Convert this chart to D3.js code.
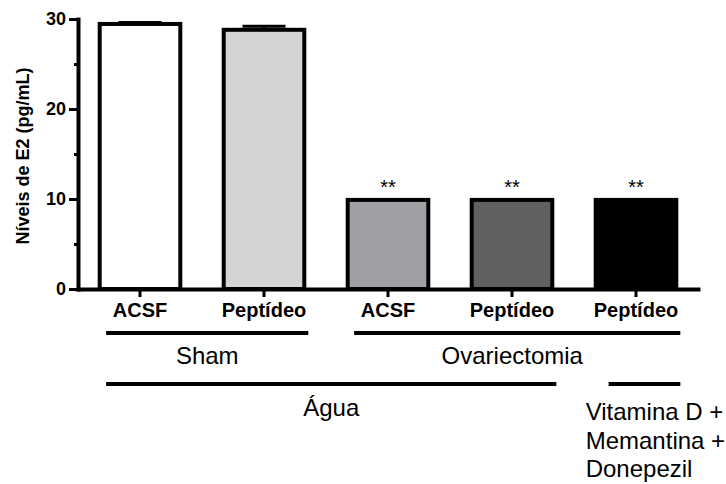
<!DOCTYPE html>
<html>
<head>
<meta charset="utf-8">
<script src="https://cdn.jsdelivr.net/npm/d3@7"></script>
<style>
  body { margin: 0; background: #fff; }
  svg { display: block; font-family: Arial, "Liberation Sans", sans-serif; }
</style>
</head>
<body>
<svg id="chart" width="726" height="484"></svg>
<script>
// bar data
const groups = ["ACSF", "Peptídeo", "ACSF", "Peptídeo", "Peptídeo"];
const means = [29.45, 28.8, 9.9, 9.9, 9.9];
const sems = [0.15, 0.4, 0.05, 0.05, 0.05];
const stars = ["", "", "**", "**", "**"];
const yTicks = [0, 10, 20, 30];
const yMinorTicks = [5, 15, 25];

// group brackets under the axis: first bar, last bar, row
const bracketLabels = ["Sham", "Ovariectomia", "Água"];
const bracketFirst = [0, 2, 0];
const bracketLast = [1, 4, 3];
const bracketRow = [0, 0, 1];
const treatmentLines = ["Vitamina D +", "Memantina +", "Donepezil"];

const fills = ["#ffffff", "#d4d4d4", "#a09fa4", "#606060", "#000000"];

const svg = d3.select("#chart");
const idx = d3.range(groups.length);

const x = d3.scaleBand().domain(idx).range([78, 698])
    .paddingInner(0.35).paddingOuter(0.175);
const y = d3.scaleLinear().domain([0, 30]).range([289, 19]);

// bars
svg.append("g").selectAll("rect").data(idx).enter().append("rect")
    .attr("x", i => x(i))
    .attr("width", x.bandwidth())
    .attr("y", i => y(means[i]))
    .attr("height", i => y(0) - y(means[i]))
    .attr("fill", i => fills[i])
    .attr("stroke", "#000")
    .attr("stroke-width", 4);

// error bars (upper half only, like the original)
const capW = 43;
const err = svg.append("g").attr("stroke", "#000").attr("stroke-width", 3);
idx.forEach(i => {
    const cx = x(i) + x.bandwidth() / 2;
    err.append("line").attr("x1", cx).attr("x2", cx)
        .attr("y1", y(means[i])).attr("y2", y(means[i] + sems[i]));
    err.append("line").attr("x1", cx - capW / 2).attr("x2", cx + capW / 2)
        .attr("y1", y(means[i] + sems[i])).attr("y2", y(means[i] + sems[i]));
});

// significance stars
svg.append("g").selectAll("text").data(idx.filter(i => stars[i])).enter().append("text")
    .attr("x", i => x(i) + x.bandwidth() / 2)
    .attr("y", i => y(means[i] + sems[i]) - 5)
    .attr("text-anchor", "middle")
    .style("font-size", "20px")
    .text(i => stars[i]);

// y axis
const yAxis = svg.append("g").attr("transform", "translate(78,0)")
    .call(d3.axisLeft(y).tickValues(yTicks).tickSize(9).tickSizeOuter(0).tickPadding(3));
svg.append("g").attr("transform", "translate(78,0)")
    .call(d3.axisLeft(y).tickValues(yMinorTicks).tickSize(4).tickSizeOuter(0).tickFormat(""))
    .call(g => g.select(".domain").remove())
    .selectAll("line").attr("stroke-width", 3);
yAxis.select(".domain").attr("stroke-width", 4).attr("stroke-linecap", "square");
yAxis.selectAll(".tick line").attr("stroke-width", 3);
yAxis.selectAll(".tick text")
    .attr("fill", "#000")
    .style("font-size", "18px").style("font-weight", "bold").style("font-family", "Arial, 'Liberation Sans', sans-serif");

// x axis
const xAxis = svg.append("g").attr("transform", "translate(0,289)")
    .call(d3.axisBottom(x).tickSize(8).tickSizeOuter(0).tickFormat(i => groups[i]));
xAxis.select(".domain").attr("stroke-width", 4).attr("stroke-linecap", "square");
xAxis.selectAll(".tick line").attr("stroke-width", 3);
xAxis.selectAll(".tick text")
    .attr("y", 28).attr("dy", 0)
    .attr("fill", "#000")
    .style("font-size", "20px").style("font-weight", "bold").style("font-family", "Arial, 'Liberation Sans', sans-serif");

// y title
svg.append("text")
    .attr("transform", "translate(29,156) rotate(-90)")
    .attr("text-anchor", "middle")
    .style("font-size", "18px").style("font-weight", "bold")
    .text("Níveis de E2 (pg/mL)");

// brackets
const rowLineY = [333, 384];
const rowTextY = [364, 416];
const bw = x.bandwidth();
bracketLabels.forEach((lab, k) => {
    const x0 = x(bracketFirst[k]) + bw * 0.08;
    const x1 = x(bracketLast[k]) + bw * 1.05;
    const r = bracketRow[k];
    svg.append("line").attr("x1", x0).attr("x2", x1)
        .attr("y1", rowLineY[r]).attr("y2", rowLineY[r])
        .attr("stroke", "#000").attr("stroke-width", 4);
    svg.append("text").attr("x", (x0 + x1) / 2 - (k === 1 ? 5 : 0)).attr("y", rowTextY[r])
        .attr("text-anchor", "middle").style("font-size", "24px").text(lab);
});

// last bar's treatment line and label
const last = groups.length - 1;
svg.append("line")
    .attr("x1", x(last) + bw * 0.16).attr("x2", x(last) + bw * 1.05)
    .attr("y1", rowLineY[1]).attr("y2", rowLineY[1])
    .attr("stroke", "#000").attr("stroke-width", 4);
const tr = svg.append("text").style("font-size", "24px");
treatmentLines.forEach((t, k) => {
    tr.append("tspan").attr("x", x(last) - 10).attr("y", 420 + k * 28.5).text(t);
});
</script>
</body>
</html>
